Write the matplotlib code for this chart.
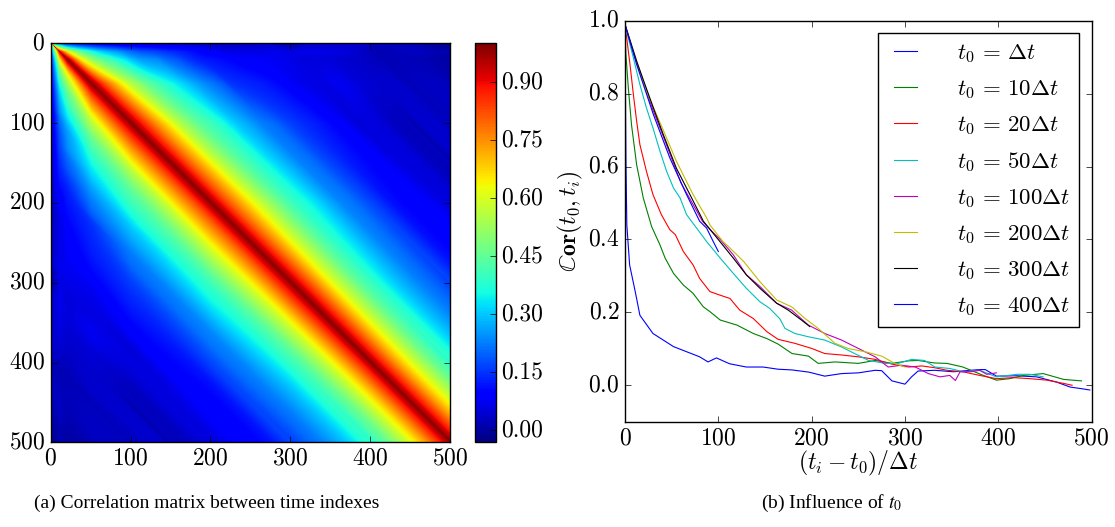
import numpy as np
import matplotlib.pyplot as plt

plt.style.use('classic')
plt.rcParams.update({
    'font.family': 'serif',
    'font.serif': ['cmr10'],
    'mathtext.fontset': 'cm',
    'axes.formatter.use_mathtext': True,
    'font.size': 17,
    'figure.facecolor': 'white',
    'savefig.facecolor': 'white',
})

# valeurs : Cor(t0, t0 + lag)
t0_list = [1, 10, 20, 50, 100, 200, 300, 400]
labels = [r'$t_0 \,=\, \Delta t$', r'$t_0 \,=\, 10\Delta t$', r'$t_0 \,=\, 20\Delta t$',
          r'$t_0 \,=\, 50\Delta t$', r'$t_0 \,=\, 100\Delta t$', r'$t_0 \,=\, 200\Delta t$',
          r'$t_0 \,=\, 300\Delta t$', r'$t_0 \,=\, 400\Delta t$']
colors = ['b', 'g', 'r', 'c', 'm', 'y', 'k', 'b']

lag_1 = [0, 1, 2, 5, 11, 16, 21, 30, 41, 52, 66, 80, 89, 98, 112, 130, 148, 164, 179, 197,
         214, 232, 250, 268, 275, 286, 300, 307, 314, 332, 352, 370, 380, 386, 398, 420,
         441, 462, 477, 488, 498]
cor_1 = [1.0, 0.62, 0.44, 0.33, 0.257, 0.192, 0.174, 0.142, 0.124, 0.106, 0.092, 0.078,
         0.064, 0.075, 0.059, 0.05, 0.05, 0.044, 0.042, 0.036, 0.025, 0.032, 0.034, 0.041,
         0.04, 0.012, 0.003, 0.023, 0.039, 0.041, 0.037, 0.041, 0.043, 0.043, 0.025, 0.026,
         0.023, 0.009, -0.005, -0.009, -0.013]

lag_10 = [0, 1, 3.6, 7, 12.5, 19.6, 28.6, 37.5, 43, 52, 62.5, 73, 84, 91, 102, 120, 137.5,
          152, 164, 179, 196.5, 207, 225, 250, 268, 286, 304, 314, 332, 345, 362, 384, 398,
          412, 427, 448, 470, 489]
cor_10 = [0.99, 0.908, 0.816, 0.715, 0.605, 0.514, 0.435, 0.385, 0.349, 0.307, 0.275, 0.252,
          0.215, 0.202, 0.179, 0.165, 0.142, 0.128, 0.113, 0.087, 0.08, 0.06, 0.064, 0.06,
          0.068, 0.06, 0.067, 0.068, 0.061, 0.06, 0.05, 0.027, 0.014, 0.018, 0.027, 0.032,
          0.016, 0.012]

lag_20 = [0, 1.8, 5.4, 9, 12.5, 16, 23, 30, 39, 48, 54, 62.5, 73, 80, 91, 102, 112.5, 123,
          137.5, 152, 164, 182, 200, 214, 232, 250, 268, 286, 304, 318, 332, 345, 362, 380,
          398, 416, 434, 452, 470, 479]
cor_20 = [0.99, 0.954, 0.88, 0.798, 0.725, 0.66, 0.587, 0.523, 0.468, 0.427, 0.413, 0.367,
          0.33, 0.293, 0.257, 0.247, 0.238, 0.206, 0.183, 0.147, 0.126, 0.115, 0.101, 0.087,
          0.083, 0.078, 0.071, 0.058, 0.05, 0.053, 0.048, 0.041, 0.037, 0.027, 0.018, 0.021,
          0.018, 0.014, 0.005, 0.0]

lag_50 = [0, 2.5, 9, 16, 23, 30, 37.5, 44.6, 52, 59, 66, 76.8, 87.5, 102, 116, 130, 144.6,
          155, 166, 171.4, 182, 196.5, 214, 232, 246, 261, 279, 293, 307, 321, 332, 348,
          362.5, 380, 398, 420, 434, 448]
cor_50 = [0.99, 0.963, 0.898, 0.825, 0.761, 0.706, 0.642, 0.587, 0.541, 0.514, 0.468, 0.431,
          0.394, 0.349, 0.307, 0.266, 0.229, 0.211, 0.182, 0.156, 0.142, 0.133, 0.124, 0.105,
          0.087, 0.068, 0.06, 0.06, 0.071, 0.068, 0.05, 0.046, 0.037, 0.041, 0.023, 0.03,
          0.03, 0.023]

lag_100 = [0, 12.5, 30, 41, 60, 83, 92, 102, 116, 130, 144.6, 162.5, 178.6, 196.5, 214, 232,
           250, 268, 282, 296, 311, 325, 337.5, 348, 354, 359, 370, 380, 387.5, 398]
cor_100 = [0.99, 0.885, 0.755, 0.683, 0.555, 0.45, 0.425, 0.40, 0.358, 0.303, 0.271, 0.225,
           0.206, 0.165, 0.142, 0.124, 0.101, 0.078, 0.05, 0.055, 0.05, 0.032, 0.023, 0.027,
           0.013, 0.037, 0.037, 0.041, 0.03, 0.034]

lag_200 = [0, 12.5, 23, 41, 55, 73, 87.5, 91, 105, 109, 127, 144.6, 162.5, 178.6, 193, 207,
           225, 239, 257, 275, 289, 300]
cor_200 = [0.99, 0.89, 0.807, 0.70, 0.615, 0.523, 0.459, 0.44, 0.394, 0.385, 0.34, 0.284,
           0.234, 0.215, 0.183, 0.156, 0.115, 0.101, 0.092, 0.08, 0.06, 0.05]

lag_300 = [0, 12.5, 30.4, 41, 55, 69.6, 84, 101.8, 116, 130, 144.6, 162.5, 175, 189, 198]
cor_300 = [0.99, 0.889, 0.761, 0.688, 0.596, 0.523, 0.45, 0.394, 0.349, 0.303, 0.266, 0.225,
           0.206, 0.179, 0.161]

lag_400 = [0, 12.5, 30.4, 48, 66, 80, 87.5, 94.6, 100]
cor_400 = [0.99, 0.88, 0.743, 0.624, 0.523, 0.45, 0.431, 0.394, 0.367]

lag_sets = [lag_1, lag_10, lag_20, lag_50, lag_100, lag_200, lag_300, lag_400]
cor_sets = [cor_1, cor_10, cor_20, cor_50, cor_100, cor_200, cor_300, cor_400]

# matrice de correlation reconstruite a partir des courbes (ligne t0 -> courbe)
n = 500
k_idx = np.arange(n)
profiles = [np.interp(k_idx, lg, cv) for lg, cv in zip(lag_sets, cor_sets)]
M = np.zeros((n, n))
for i in range(n):
    k = max(np.searchsorted(t0_list, i, side='right') - 1, 0)
    prof = profiles[k].copy()
    if k + 1 < len(t0_list):
        a, b = t0_list[k], t0_list[k + 1]
        w = min(max((i - a) / (b - a), 0.0), 1.0)
        ok = k_idx <= lag_sets[k + 1][-1]
        prof[ok] = (1 - w) * prof[ok] + w * profiles[k + 1][ok]
    M[i, i:] = prof[:n - i]
M = np.triu(M) + np.triu(M, 1).T

fig = plt.figure(figsize=(11.15, 5.27), dpi=100)

ax1 = fig.add_axes([0.0455, 0.1607, 0.3581, 0.7571])
im = ax1.imshow(M, cmap='jet', extent=(0, 500, 500, 0), vmin=-0.032, vmax=1.0,
                interpolation='bilinear', aspect='auto')
ax1.set_xticks(range(0, 501, 100))
ax1.set_yticks(range(0, 501, 100))
ax1.set_xlim(0, 500)
ax1.set_ylim(500, 0)

cax = fig.add_axes([0.426, 0.1607, 0.0186, 0.7571])
cb = fig.colorbar(im, cax=cax, ticks=[0.0, 0.15, 0.30, 0.45, 0.60, 0.75, 0.90], format='%.2f')

ax2 = fig.add_axes([0.5605, 0.1998, 0.4186, 0.7609])
for lg, cv, c, lab in zip(lag_sets, cor_sets, colors, labels):
    ax2.plot(lg, cv, color=c, lw=0.8, label=lab)
ax2.set_xlim(0, 500)
ax2.set_ylim(-0.1, 1.0)
ax2.set_yticks([0.0, 0.2, 0.4, 0.6, 0.8, 1.0])
ax2.set_xlabel(r'$(t_i - t_0)/\Delta t$', labelpad=0)
ax2.set_ylabel(r'$\mathbb{C}\mathbf{or}(t_0, t_i)$', labelpad=2)
ax2.legend(loc='upper right', fontsize=16.5, handlelength=1.6, handletextpad=1.45,
           borderaxespad=0.55, labelspacing=0.57, fancybox=False)

fig.text(0.185, 0.036, '(a) Correlation matrix between time indexes', ha='center',
         family='Liberation Serif', fontsize=14)
fig.text(0.746, 0.036, '(b) Influence of $t_0$', ha='center',
         family='Liberation Serif', math_fontfamily='stix', fontsize=14)

fig.savefig('out.png', dpi=100)
